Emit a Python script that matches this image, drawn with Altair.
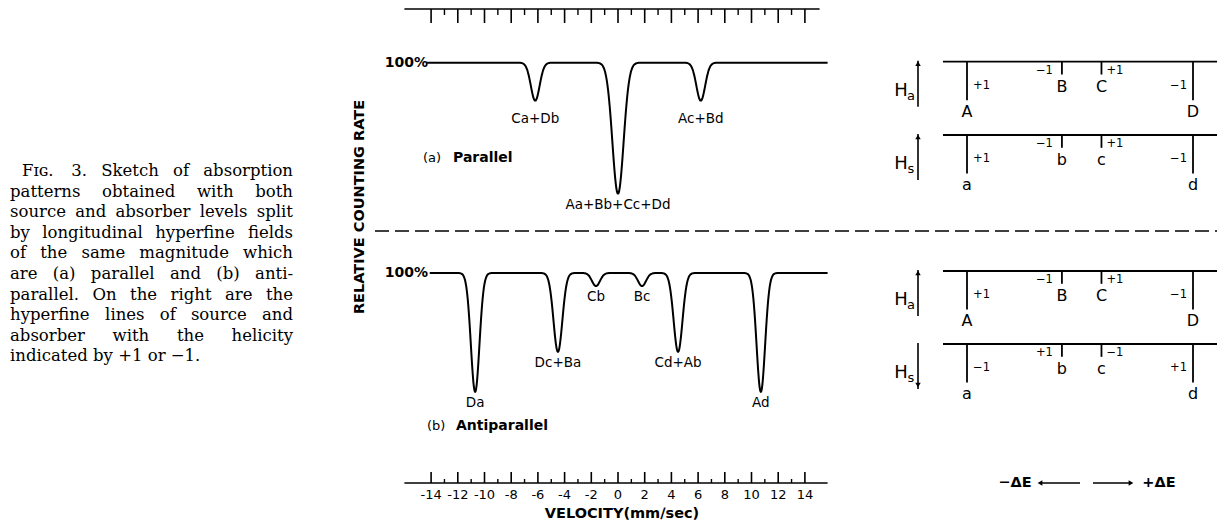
import altair as alt
import numpy as np
import pandas as pd

# ---------------- data ----------------
CAPTION = [
    "Fɪɢ. 3. Sketch of absorption",
    "patterns obtained with both",
    "source and absorber levels split",
    "by longitudinal hyperfine fields",
    "of the same magnitude which",
    "are (a) parallel and (b) anti-",
    "parallel. On the right are the",
    "hyperfine lines of source and",
    "absorber with the helicity",
    "indicated by +1 or \u22121.",
]

# (a) parallel: line positions (mm/sec), depths (% of counting rate), widths
PAR_POS = [-6.2, 0.0, 6.2]
PAR_DEPTH = [11.6, 40.0, 11.6]
PAR_WIDTH = [0.33, 0.42, 0.33]
PAR_LABELS = ["Ca+Db", "Aa+Bb+Cc+Dd", "Ac+Bd"]

# (b) antiparallel
ANTI_POS = [-10.7, -4.5, -1.65, 1.8, 4.5, 10.7]
ANTI_DEPTH = [36.3, 24.1, 4.0, 4.0, 24.1, 36.3]
ANTI_WIDTH = [0.32, 0.33, 0.3, 0.3, 0.33, 0.32]
ANTI_LABELS = ["Da", "Dc+Ba", "Cb", "Bc", "Cd+Ab", "Ad"]

MAJOR_TICKS = list(range(-14, 15, 2))
MINOR_TICKS = list(range(-13, 14, 2))

# hyperfine line diagrams
ABS_NAMES = ["A", "B", "C", "D"]
SRC_NAMES = ["a", "b", "c", "d"]
LINE_ENERGY = [-1.0, -0.16, 0.19, 1.0]
LINE_STRENGTH = [3, 1, 1, 3]
HEL_ABS = [1, -1, 1, -1]
HEL_SRC_PAR = [1, -1, 1, -1]
HEL_SRC_ANTI = [-1, 1, -1, 1]

# ---------------- layout helpers ----------------
W, H = 1209, 518
SANS = "DejaVu Sans"
SERIF = "DejaVu Serif"
CAP_SIZE = 16.5

# approximate DejaVu Serif advance widths (em) used to justify the caption
GLYPH_W = {
    "a": .596, "b": .640, "c": .560, "d": .640, "e": .592, "f": .370, "g": .640, "h": .644,
    "i": .320, "k": .607, "l": .320, "m": .948, "n": .644, "o": .602, "p": .640, "r": .478,
    "s": .513, "t": .402, "u": .644, "v": .565, "w": .856, "y": .565, "F": .694, "S": .685,
    "O": .820, "ɪ": .420, "ɢ": .700, ".": .318, "(": .390, ")": .390, "-": .338, "+": .838,
    "\u2212": .838, "1": .636, "3": .636,
}


def word_width(w):
    return sum(GLYPH_W.get(ch, 0.6) for ch in w) * CAP_SIZE


def P(v):
    return v - 8


VEL = alt.Scale(domain=[-16, 16], range=[P(404.4), P(831.6)], nice=False, zero=False)
ENERGY = alt.Scale(domain=[-1, 1], range=[P(967), P(1193)], nice=False, zero=False)


def rate_scale(base):
    return alt.Scale(domain=[60, 100], range=[P(base + 131), P(base)], nice=False, zero=False)


def vx(field="v"):
    return alt.X(f"{field}:Q", scale=VEL, axis=None)


layers = []


def txt(text, x, y, size=14, weight="normal", align="center", font=SANS, angle=0, baseline="middle"):
    kw = dict(text=text, font=font, fontSize=size, fontWeight=weight, align=align,
              baseline=baseline, color="black")
    if angle:
        kw["angle"] = angle
    layers.append(
        alt.Chart(pd.DataFrame({"t": [text]})).mark_text(**kw).encode(
            x=alt.value(P(x)), y=alt.value(P(y))
        )
    )


def hrule(x0, x1, y, width=1.6, dash=None):
    kw = dict(color="black", strokeWidth=width)
    if dash:
        kw["strokeDash"] = dash
    layers.append(
        alt.Chart(pd.DataFrame({"k": [0]})).mark_rule(**kw).encode(
            x=alt.value(P(x0)), x2=alt.value(P(x1)), y=alt.value(P(y))
        )
    )


def vrule(x, y0, y1, width=1.6):
    layers.append(
        alt.Chart(pd.DataFrame({"k": [0]})).mark_rule(color="black", strokeWidth=width).encode(
            x=alt.value(P(x)), y=alt.value(P(y0)), y2=alt.value(P(y1))
        )
    )


def head(x, y, shape, size=40):
    layers.append(
        alt.Chart(pd.DataFrame({"k": [0]})).mark_point(
            shape=shape, filled=True, color="black", size=size, opacity=1
        ).encode(x=alt.value(P(x)), y=alt.value(P(y)))
    )


# ---------------- caption (justified) ----------------
for i, line in enumerate(CAPTION):
    y = 171 + 20.6 * i
    left = 22 if i == 0 else 10
    right = 293
    words = line.split(" ")
    if i == len(CAPTION) - 1:
        txt(line, left, y, size=CAP_SIZE, align="left", font=SERIF)
        continue
    widths = [word_width(w) for w in words]
    gap = (right - left - sum(widths)) / (len(words) - 1)
    x = left
    for w, ww in zip(words[:-1], widths[:-1]):
        txt(w, x, y, size=CAP_SIZE, align="left", font=SERIF)
        x += ww + gap
    txt(words[-1], right, y, size=CAP_SIZE, align="right", font=SERIF)

# ---------------- axes ----------------
def vel_axis(y_line, tick_major, tick_minor, x_end, labels):
    layers.append(
        alt.Chart(pd.DataFrame({"v0": [-16.0], "v1": [x_end]})).mark_rule(
            color="black", strokeWidth=1.6
        ).encode(x=vx("v0"), x2=alt.X2("v1"), y=alt.value(P(y_line)))
    )
    layers.append(
        alt.Chart(pd.DataFrame({"v": MAJOR_TICKS})).mark_rule(color="black", strokeWidth=1.6).encode(
            x=vx(), y=alt.value(P(y_line)), y2=alt.value(P(y_line + tick_major))
        )
    )
    layers.append(
        alt.Chart(pd.DataFrame({"v": MINOR_TICKS})).mark_rule(color="black", strokeWidth=1.4).encode(
            x=vx(), y=alt.value(P(y_line)), y2=alt.value(P(y_line + tick_minor))
        )
    )
    if labels:
        layers.append(
            alt.Chart(pd.DataFrame({"v": MAJOR_TICKS, "lab": [str(t) for t in MAJOR_TICKS]})).mark_text(
                font=SANS, fontSize=13, color="black", baseline="middle"
            ).encode(x=vx(), y=alt.value(P(495)), text="lab:N")
        )


vel_axis(9, 14, 6, 15.1, False)
vel_axis(483, -11, -4, 15.7, True)
txt("VELOCITY(mm\u2215sec)", 622, 514, size=14.5, weight="bold")
txt("RELATIVE   COUNTING   RATE", 360, 207, size=14.5, weight="bold", angle=270)

# ---------------- spectra ----------------
def spectrum(grid, pos, depth, width):
    r = np.full_like(grid, 100.0)
    for p, d, w in zip(pos, depth, width):
        r -= d * np.exp(-0.5 * ((grid - p) / w) ** 2)
    return r


def panel(base, start, pos, depth, width, labels, label_dy):
    ys = rate_scale(base)
    grid = np.round(np.arange(start, 15.7001, 0.04), 3)
    df = pd.DataFrame({"v": grid, "rate": spectrum(grid, pos, depth, width)})
    layers.append(
        alt.Chart(df).mark_line(color="black", strokeWidth=2, interpolate="monotone").encode(
            x=vx(), y=alt.Y("rate:Q", scale=ys, axis=None)
        )
    )
    lab = pd.DataFrame({"v": pos, "rate": [100 - d for d in depth], "lab": labels, "dy": label_dy})
    for dy in sorted(set(label_dy)):
        layers.append(
            alt.Chart(lab).transform_filter(alt.datum.dy == dy).mark_text(
                font=SANS, fontSize=13.5, color="black", baseline="middle", dy=dy
            ).encode(x=vx(), y=alt.Y("rate:Q", scale=ys, axis=None), text="lab:N")
        )
    layers.append(
        alt.Chart(pd.DataFrame({"rate": [100], "lab": ["100%"]})).mark_text(
            font=SANS, fontSize=14, fontWeight="bold", color="black", align="right",
            baseline="middle"
        ).encode(x=alt.value(P(428)), y=alt.Y("rate:Q", scale=ys, axis=None), text="lab:N")
    )


panel(62.7, -14.3, PAR_POS, PAR_DEPTH, PAR_WIDTH, PAR_LABELS, [18, 11, 18])
panel(273, -14.1, ANTI_POS, ANTI_DEPTH, ANTI_WIDTH, ANTI_LABELS, [11, 11, 11, 11, 11, 11])

txt("(a)", 423, 158, size=13, align="left")
txt("Parallel", 453, 158, size=14, weight="bold", align="left")
txt("(b)", 427, 426, size=13, align="left")
txt("Antiparallel", 456, 426, size=14, weight="bold", align="left")

hrule(375, 1217, 231, width=1.6, dash=[14, 6])

# ---------------- hyperfine line diagrams ----------------
def diagram(L, names, hel, field_up, sub):
    hrule(943, 1217, L, width=1.8)
    df = pd.DataFrame({
        "e": LINE_ENERGY, "s": LINE_STRENGTH, "name": names,
        "hel": [("+1" if h > 0 else "\u22121") for h in hel],
        "i": list(range(4)),
    })
    ys = alt.Scale(domain=[0, 3], range=[P(L), P(L + 38.5)], nice=False, zero=False)
    layers.append(
        alt.Chart(df).mark_rule(color="black", strokeWidth=1.8).encode(
            x=alt.X("e:Q", scale=ENERGY, axis=None),
            y=alt.Y("s:Q", scale=ys, axis=None),
            y2=alt.value(P(L)),
        )
    )
    for s, dy in [(3, 50), (1, 25)]:
        layers.append(
            alt.Chart(df).transform_filter(alt.datum.s == s).mark_text(
                font=SANS, fontSize=16, color="black", baseline="middle"
            ).encode(x=alt.X("e:Q", scale=ENERGY, axis=None), y=alt.value(P(L + dy)), text="name:N")
        )
    for idx, (dx, align) in enumerate([(6, "left"), (-9, "right"), (5, "left"), (-6, "right")]):
        dy = 24 if LINE_STRENGTH[idx] == 3 else 9
        layers.append(
            alt.Chart(df).transform_filter(alt.datum.i == idx).mark_text(
                font=SANS, fontSize=11.5, color="black", baseline="middle", align=align, dx=dx
            ).encode(x=alt.X("e:Q", scale=ENERGY, axis=None), y=alt.value(P(L + dy)), text="hel:N")
        )
    vrule(918, L - 1, L + 45, width=1.6)
    if field_up:
        head(918, L + 2, "triangle-up", 30)
    else:
        head(918, L + 41, "triangle-down", 30)
    txt("H", 901, L + 29, size=18)
    txt(sub, 911, L + 34, size=13)


diagram(61.7, ABS_NAMES, HEL_ABS, True, "a")
diagram(135, SRC_NAMES, HEL_SRC_PAR, True, "s")
diagram(271, ABS_NAMES, HEL_ABS, True, "a")
diagram(344, SRC_NAMES, HEL_SRC_ANTI, False, "s")

txt("\u2212\u0394E", 1015, 483, size=14.5, weight="bold")
hrule(1040, 1080, 483, width=1.4)
head(1040, 483, "triangle-left", 30)
hrule(1093, 1131, 483, width=1.4)
head(1131, 483, "triangle-right", 30)
txt("+\u0394E", 1159, 483, size=14.5, weight="bold")

chart = (
    alt.layer(*layers)
    .resolve_scale(x="independent", y="independent")
    .properties(width=W, height=H, padding=0, autosize=alt.AutoSizeParams(type="none"),
                background="white")
    .configure_view(stroke=None)
)

chart.save("out.html", embed_options={"renderer": "svg", "actions": False})
